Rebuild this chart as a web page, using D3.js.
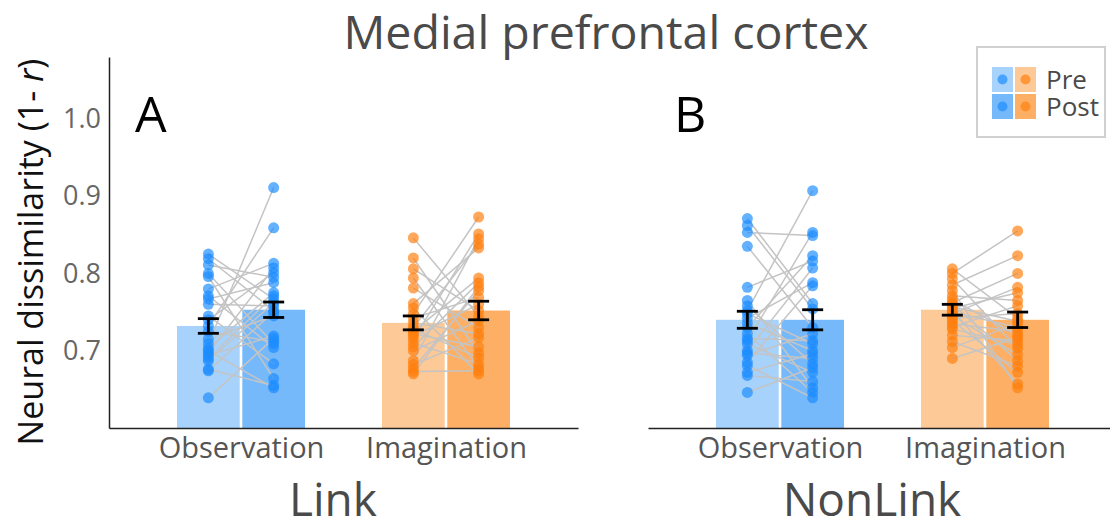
<!DOCTYPE html>
<html><head><meta charset="utf-8">
<script src="https://cdn.jsdelivr.net/npm/d3@7"></script>
<style>body{margin:0;background:#fff}svg{display:block;font-family:"Open Sans",sans-serif}</style>
</head><body>
<svg id="c" width="1110" height="528"></svg>
<script>
// ---------- data ----------
const panels = ["Link", "NonLink"];
const panelLetters = ["A", "B"];
const categories = ["Observation", "Imagination"];
const sessions = ["Pre", "Post"];
const yTicks = [0.7, 0.8, 0.9, 1.0];

// bar means [Observation Pre, Observation Post, Imagination Pre, Imagination Post]
const linkMeans = [0.732, 0.753, 0.736, 0.752];
const linkSEM = [0.0095, 0.010, 0.009, 0.012];
const nonlinkMeans = [0.740, 0.740, 0.753, 0.740];
const nonlinkSEM = [0.011, 0.013, 0.007, 0.010];

// subject values, paired by index
const linkObsPre = [0.825, 0.819, 0.811, 0.800, 0.796, 0.780, 0.771, 0.767, 0.760, 0.745, 0.740, 0.732, 0.725, 0.715, 0.709, 0.703, 0.700, 0.697, 0.694, 0.690, 0.687, 0.676, 0.674, 0.639];
const linkObsPost = [0.767, 0.752, 0.795, 0.709, 0.664, 0.813, 0.704, 0.788, 0.758, 0.683, 0.801, 0.859, 0.712, 0.745, 0.911, 0.775, 0.652, 0.807, 0.719, 0.771, 0.762, 0.655, 0.750, 0.716];
const linkImaPre = [0.846, 0.820, 0.806, 0.794, 0.781, 0.761, 0.755, 0.748, 0.742, 0.736, 0.730, 0.728, 0.725, 0.722, 0.719, 0.715, 0.710, 0.705, 0.700, 0.687, 0.682, 0.677, 0.673, 0.670];
const linkImaPost = [0.745, 0.697, 0.752, 0.678, 0.730, 0.833, 0.670, 0.873, 0.769, 0.722, 0.838, 0.691, 0.794, 0.705, 0.760, 0.851, 0.683, 0.788, 0.739, 0.845, 0.717, 0.778, 0.674, 0.783];
const nonlinkObsPre = [0.871, 0.862, 0.853, 0.835, 0.782, 0.765, 0.758, 0.752, 0.748, 0.742, 0.736, 0.730, 0.722, 0.716, 0.713, 0.709, 0.700, 0.697, 0.694, 0.685, 0.681, 0.672, 0.668, 0.646];
const nonlinkObsPost = [0.761, 0.754, 0.849, 0.730, 0.816, 0.652, 0.683, 0.907, 0.709, 0.788, 0.700, 0.823, 0.646, 0.713, 0.853, 0.672, 0.807, 0.690, 0.722, 0.784, 0.639, 0.696, 0.660, 0.678];
const nonlinkImaPre = [0.806, 0.800, 0.793, 0.785, 0.778, 0.771, 0.766, 0.762, 0.760, 0.757, 0.755, 0.752, 0.750, 0.748, 0.745, 0.742, 0.739, 0.735, 0.731, 0.728, 0.720, 0.712, 0.704, 0.690];
const nonlinkImaPost = [0.742, 0.855, 0.703, 0.823, 0.652, 0.765, 0.720, 0.800, 0.687, 0.738, 0.775, 0.657, 0.730, 0.782, 0.695, 0.748, 0.672, 0.725, 0.758, 0.708, 0.713, 0.680, 0.735, 0.717];

// ---------- build ----------
const panelData = [
  {means: linkMeans, sem: linkSEM, subj: [[linkObsPre, linkObsPost], [linkImaPre, linkImaPost]]},
  {means: nonlinkMeans, sem: nonlinkSEM, subj: [[nonlinkObsPre, nonlinkObsPost], [nonlinkImaPre, nonlinkImaPost]]}
];
const barColors = {Observation: ["#a6d2fc", "#76b9fa"], Imagination: ["#fdc997", "#fdb065"]};
const dotColors = {Observation: "#1a8cff", Imagination: "#ff7f0e"};

const svg = d3.select("#c");
const y = d3.scaleLinear().domain([0.6, 1.08]).range([428, 57]);
const panelX = d3.scaleOrdinal().domain(panels).range([109, 648]);
const panelW = 469;

svg.append("text").attr("x", 606).attr("y", 49).attr("text-anchor", "middle")
  .attr("font-size", 46.5).attr("fill", "#4a4a4a").text("Medial prefrontal cortex");

// y label
const yl = svg.append("text").attr("transform", "translate(43,252) rotate(-90)")
  .attr("text-anchor", "middle").attr("font-size", 34).attr("fill", "#111");
yl.append("tspan").text("Neural dissimilarity (1- ");
yl.append("tspan").attr("font-style", "italic").text("r");
yl.append("tspan").text(")");

// y axis (left panel only)
const yAxis = svg.append("g").attr("transform", "translate(109,0)")
  .call(d3.axisLeft(y).tickValues(yTicks).tickFormat(d3.format(".1f")).tickSize(0).tickPadding(8));
yAxis.select(".domain").attr("stroke", "#222").attr("stroke-width", 1.5);
yAxis.selectAll("text").attr("font-size", 27).attr("fill", "#666").attr("font-family", "Open Sans");

panels.forEach((p, pi) => {
  const pd = panelData[pi];
  const left = panelX(p);
  const g = svg.append("g");
  const xc = d3.scalePoint().domain(categories).range([left, left + panelW]).padding(0.644);
  const xs = d3.scaleBand().domain(sessions).range([-64, 64]).paddingInner(0.04);

  // bars
  categories.forEach((c, ci) => {
    sessions.forEach((s, si) => {
      const m = pd.means[ci * 2 + si];
      g.append("rect").attr("x", xc(c) + xs(s)).attr("width", xs.bandwidth())
        .attr("y", y(m)).attr("height", y(0.6) - y(m)).attr("fill", barColors[c][si]);
    });
  });
  // paired lines
  categories.forEach((c, ci) => {
    const [pre, post] = pd.subj[ci];
    const x0 = xc(c) + xs("Pre") + xs.bandwidth() / 2;
    const x1 = xc(c) + xs("Post") + xs.bandwidth() / 2;
    pre.forEach((v, i) => {
      g.append("line").attr("x1", x0).attr("x2", x1).attr("y1", y(v)).attr("y2", y(post[i]))
        .attr("stroke", "#c4c4c4").attr("stroke-width", 1.5);
    });
  });
  // points
  categories.forEach((c, ci) => {
    sessions.forEach((s, si) => {
      const cx = xc(c) + xs(s) + xs.bandwidth() / 2;
      pd.subj[ci][si].forEach(v => {
        g.append("circle").attr("cx", cx).attr("cy", y(v)).attr("r", 5.5)
          .attr("fill", dotColors[c]).attr("fill-opacity", 0.68);
      });
    });
  });
  // error bars
  categories.forEach((c, ci) => {
    sessions.forEach((s, si) => {
      const cx = xc(c) + xs(s) + xs.bandwidth() / 2;
      const m = pd.means[ci * 2 + si], e = pd.sem[ci * 2 + si];
      const eg = g.append("g").attr("stroke", "#000").attr("stroke-width", 2.8);
      eg.append("line").attr("x1", cx).attr("x2", cx).attr("y1", y(m - e)).attr("y2", y(m + e));
      [m - e, m + e].forEach(v => eg.append("line").attr("x1", cx - 10.5).attr("x2", cx + 10.5).attr("y1", y(v)).attr("y2", y(v)));
    });
  });
  // x axis
  const xa = g.append("g").attr("transform", "translate(0,428)")
    .call(d3.axisBottom(xc).tickSize(0).tickPadding(9));
  xa.select(".domain").attr("stroke", "#222").attr("stroke-width", 1.5);
  xa.selectAll("text").attr("font-size", 29).attr("fill", "#555").attr("font-family", "Open Sans");
  // panel title
  g.append("text").attr("x", left + 224).attr("y", 516).attr("text-anchor", "middle")
    .attr("font-size", 46).attr("fill", "#4a4a4a").text(p);
  g.append("text").attr("x", left + 26).attr("y", 132).attr("font-size", 50).attr("fill", "#000").text(panelLetters[pi]);
});

// legend
const lg = svg.append("g");
lg.append("rect").attr("x", 977).attr("y", 47).attr("width", 128).attr("height", 90)
  .attr("fill", "#fff").attr("stroke", "#d0d0d0").attr("stroke-width", 2);
sessions.forEach((s, si) => {
  categories.forEach((c, ci) => {
    const sx = 992 + ci * 23, sy = 67 + si * 27;
    lg.append("rect").attr("x", sx).attr("y", sy).attr("width", 21).attr("height", 25).attr("fill", barColors[c][si]);
    lg.append("circle").attr("cx", sx + 10.5).attr("cy", sy + 12.5).attr("r", 5).attr("fill", dotColors[c]).attr("fill-opacity", 0.68);
  });
  lg.append("text").attr("x", 1046).attr("y", 89 + si * 27).attr("font-size", 26).attr("fill", "#4a4a4a").text(s);
});
</script>
</body></html>
